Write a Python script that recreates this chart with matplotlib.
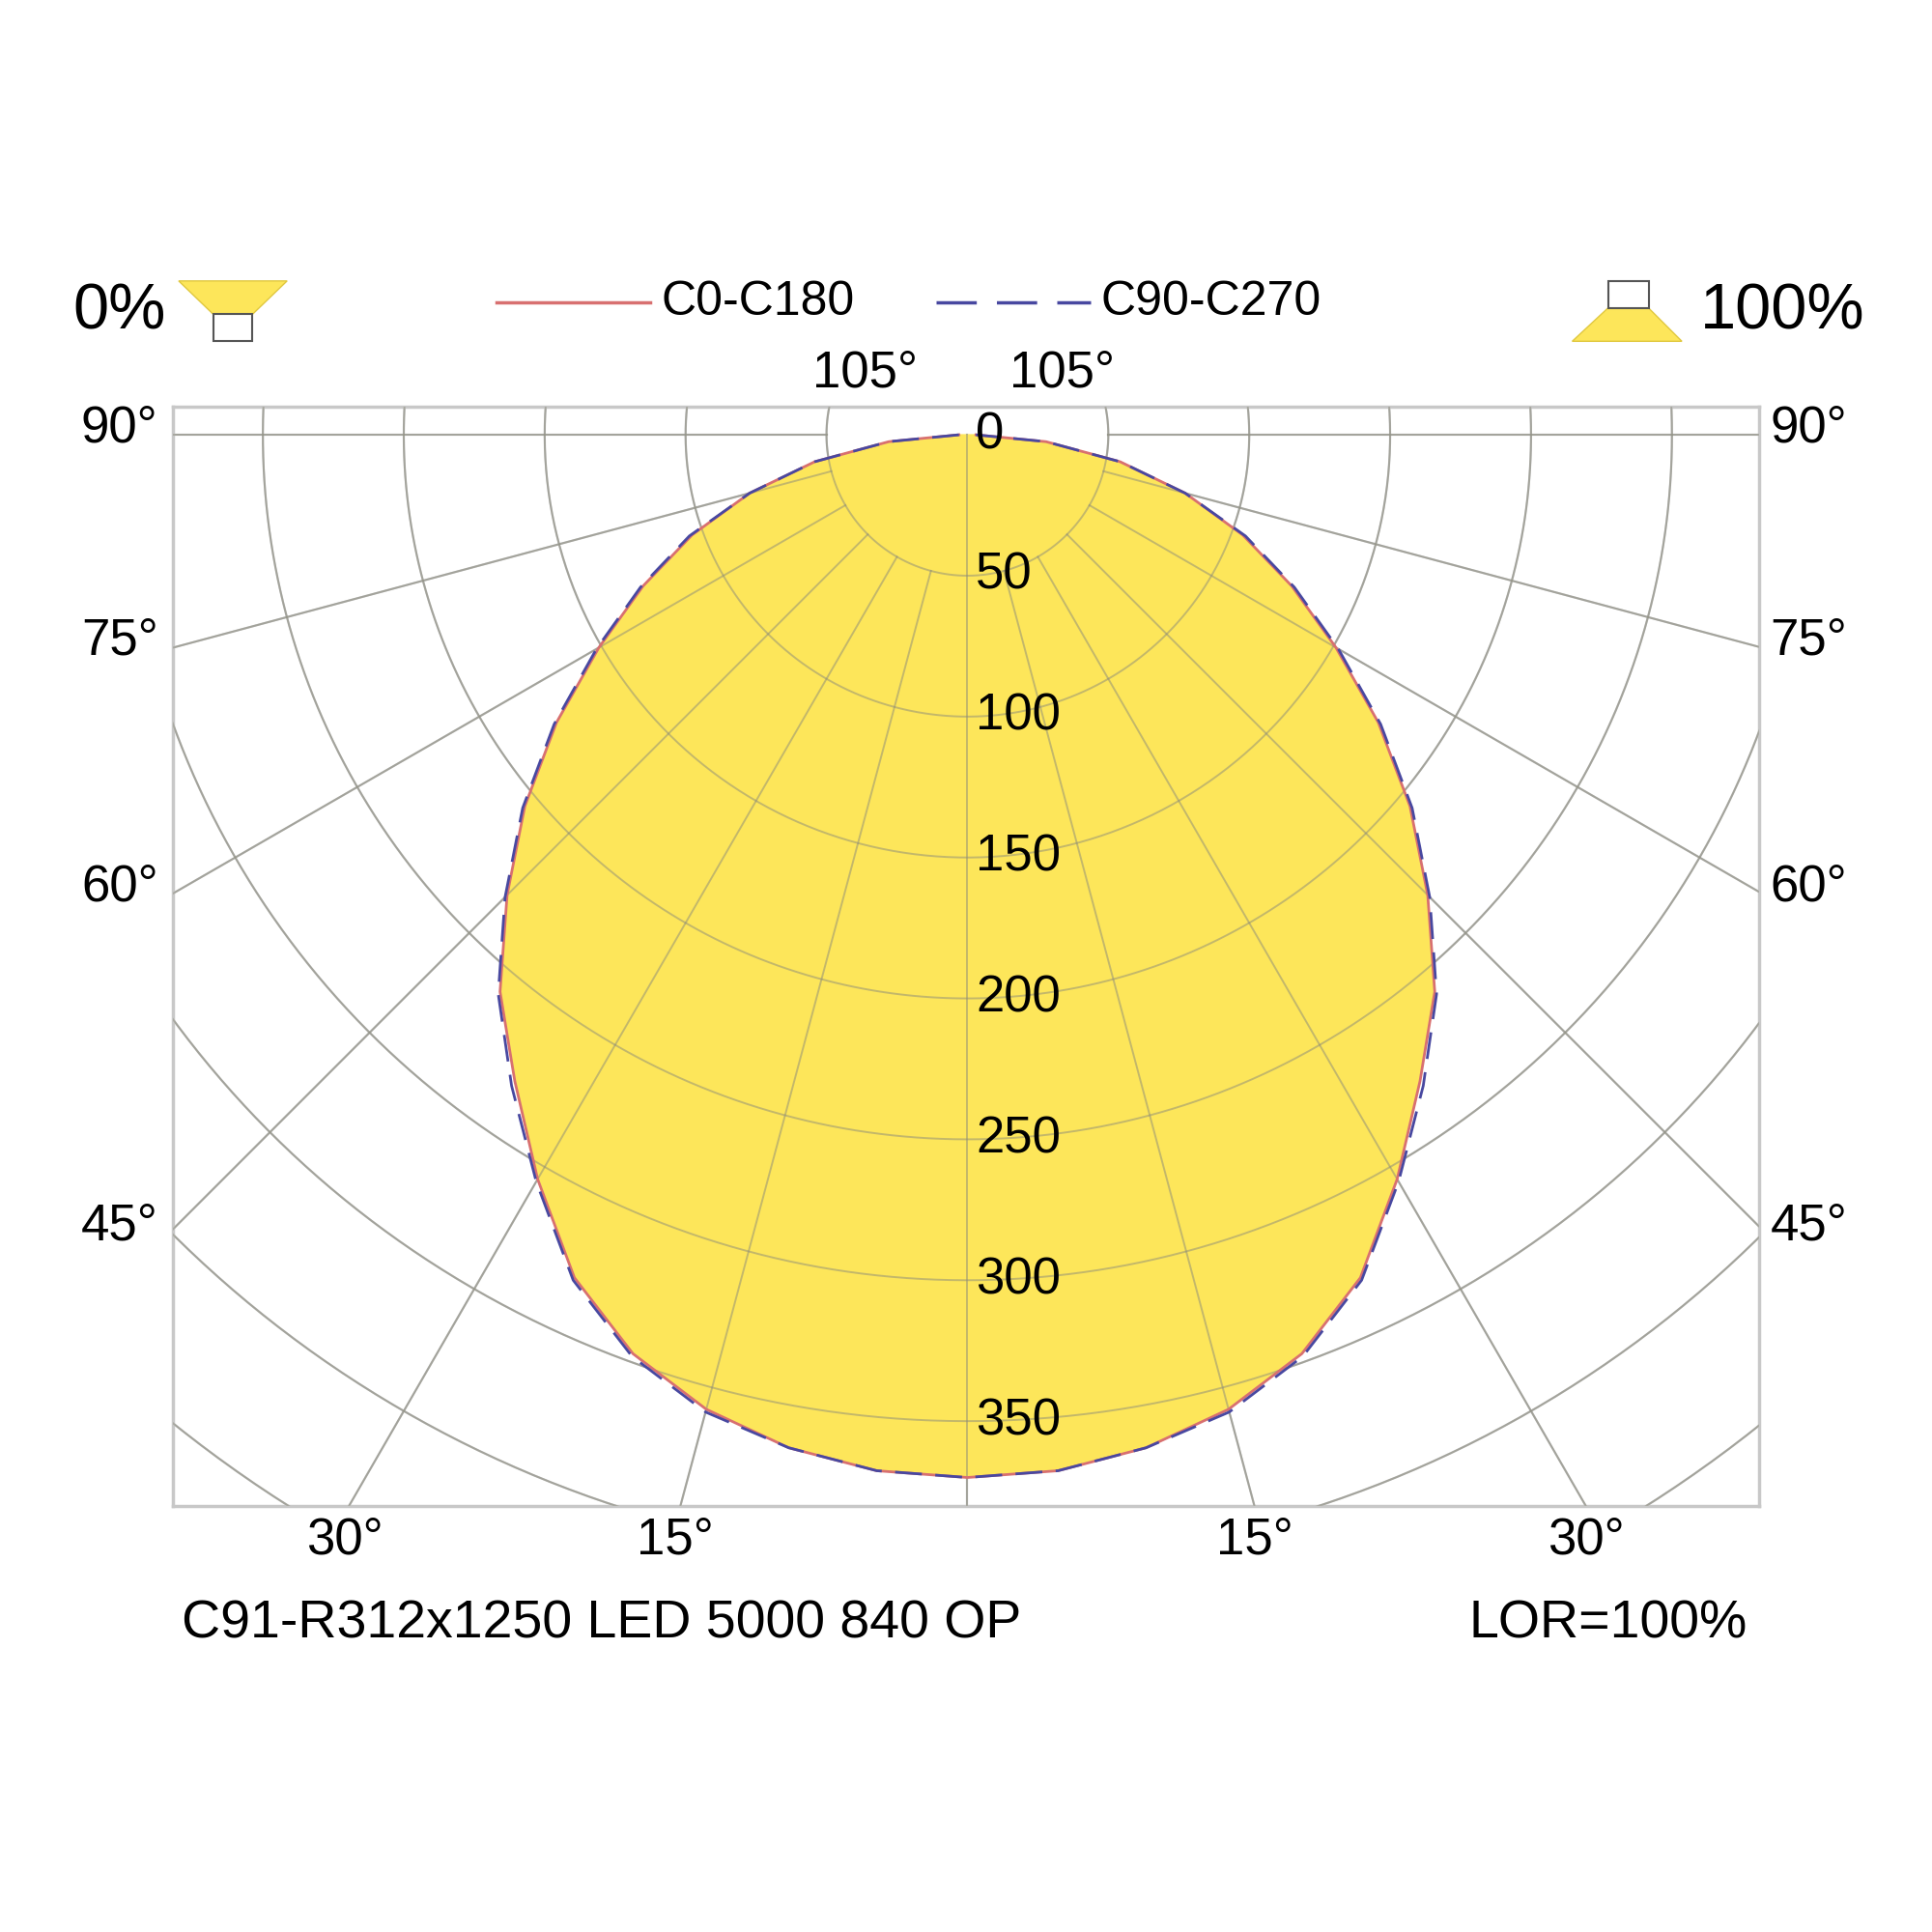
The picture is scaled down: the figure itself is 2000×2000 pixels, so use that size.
import numpy as np
import matplotlib.pyplot as plt
from matplotlib.patches import Polygon, Rectangle

plt.rcParams['font.family'] = ['Liberation Sans', 'DejaVu Sans']

# luminous intensity (cd) vs angle from nadir (deg), symmetric
angles = [0, 5, 10, 15, 20, 25, 30, 35, 40, 45, 50, 55, 60, 65, 70, 75, 80, 85, 90]
c0_c180 = [370, 369, 365, 358, 347, 330, 305, 280, 258, 231, 205, 178, 151, 127, 104, 80, 55, 28, 3]
c90_c270 = [370, 369, 365, 359, 348, 331, 306, 282, 259, 232, 206, 179, 152, 128, 105, 80, 55, 28, 3]
rings = [50, 100, 150, 200, 250, 300, 350, 400, 450]
spokes = list(range(15, 181, 15))

W = 1568.0
def fx(x): return x / W
def fy(y): return 1 - y / W

fig = plt.figure(figsize=(20, 20), dpi=100)
ax = fig.add_axes([fx(140), fy(1222), fx(1428) - fx(140), fy(330) - fy(1222)])
ax.set_xlim(-282, 281)
ax.set_ylim(-380, 10)
ax.set_aspect('equal')
ax.set_xticks([])
ax.set_yticks([])
for sp in ax.spines.values():
    sp.set_color('#c8c8c8')
    sp.set_linewidth(2.5)


def draw_grid(color, lw, alpha, z):
    t = np.linspace(0, 2 * np.pi, 720)
    for r in rings:
        ax.plot(r * np.cos(t), r * np.sin(t), color=color, lw=lw, alpha=alpha, zorder=z)
    ax.plot([0, 0], [0, -600], color=color, lw=lw, alpha=alpha, zorder=z)
    for a in spokes:
        th = np.radians(a)
        for sgn in (-1, 1):
            ax.plot([sgn * 50 * np.sin(th), sgn * 600 * np.sin(th)],
                    [-50 * np.cos(th), -600 * np.cos(th)], color=color, lw=lw, alpha=alpha, zorder=z)


def curve(vals):
    a = np.radians(np.array(angles))
    v = np.array(vals)
    th = np.concatenate([-a[::-1], a[1:]])
    rr = np.concatenate([v[::-1], v[1:]])
    return rr * np.sin(th), -rr * np.cos(th)

draw_grid('#bdbdbd', 1.6, 1.0, 1)
x1, y1 = curve(c0_c180)
x2, y2 = curve(c90_c270)
ax.fill(x1, y1, color='#fde65a', zorder=2)
draw_grid('#8a8a7a', 1.4, 0.5, 3)
ax.plot(x1, y1, color='#d87070', lw=2, zorder=4)
ax.plot(x2, y2, color='#4848a0', lw=2, dashes=(10, 5), zorder=5)

ax.text(3, 0, '0', fontsize=38, va='center', ha='left', zorder=6)
for r in rings[:7]:
    ax.text(3, -r, str(r), fontsize=38, va='center', ha='left', zorder=6)

# angle labels
fs = 38
for lab, y in [('90°', 348), ('75°', 520), ('60°', 720), ('45°', 995)]:
    fig.text(fx(97), fy(y), lab, fontsize=fs, ha='center', va='center')
    fig.text(fx(1468), fy(y), lab, fontsize=fs, ha='center', va='center')
for lab, x in [('30°', 280), ('15°', 548), ('15°', 1018), ('30°', 1287)]:
    fig.text(fx(x), fy(1250), lab, fontsize=fs, ha='center', va='center')
fig.text(fx(702), fy(303), '105°', fontsize=fs, ha='center', va='center')
fig.text(fx(862), fy(303), '105°', fontsize=fs, ha='center', va='center')

# header
fig.text(fx(97), fy(254), '0%', fontsize=48, ha='center', va='center')
fig.text(fx(1447), fy(254), '100%', fontsize=48, ha='center', va='center')
fig.add_artist(Polygon([[fx(145), fy(228)], [fx(233), fy(228)], [fx(205), fy(255)], [fx(173), fy(255)]],
                       closed=True, facecolor='#fde65a', edgecolor='#e0c840', transform=fig.transFigure))
fig.add_artist(Rectangle((fx(173), fy(277)), fx(32), fx(22), facecolor='white', edgecolor='#555555',
                         lw=1.5, transform=fig.transFigure))
fig.add_artist(Polygon([[fx(1305), fy(250)], [fx(1338), fy(250)], [fx(1365), fy(277)], [fx(1276), fy(277)]],
                       closed=True, facecolor='#fde65a', edgecolor='#e0c840', transform=fig.transFigure))
fig.add_artist(Rectangle((fx(1305), fy(250)), fx(33), fx(22), facecolor='white', edgecolor='#555555',
                         lw=1.5, transform=fig.transFigure))

fig.add_artist(plt.Line2D([fx(403), fx(528)], [fy(245), fy(245)], color='#d87070', lw=2.5))
fig.text(fx(537), fy(245), 'C0-C180', fontsize=36, ha='left', va='center')
fig.add_artist(plt.Line2D([fx(760), fx(885)], [fy(245), fy(245)], color='#4848a0', lw=2.5, dashes=(12, 6)))
fig.text(fx(893), fy(245), 'C90-C270', fontsize=36, ha='left', va='center')

fig.text(fx(147), fy(1318), 'C91-R312x1250 LED 5000 840 OP', fontsize=40, ha='left', va='center')
fig.text(fx(1418), fy(1318), 'LOR=100%', fontsize=40, ha='right', va='center')

fig.savefig('out.png', dpi=100, facecolor='white')
